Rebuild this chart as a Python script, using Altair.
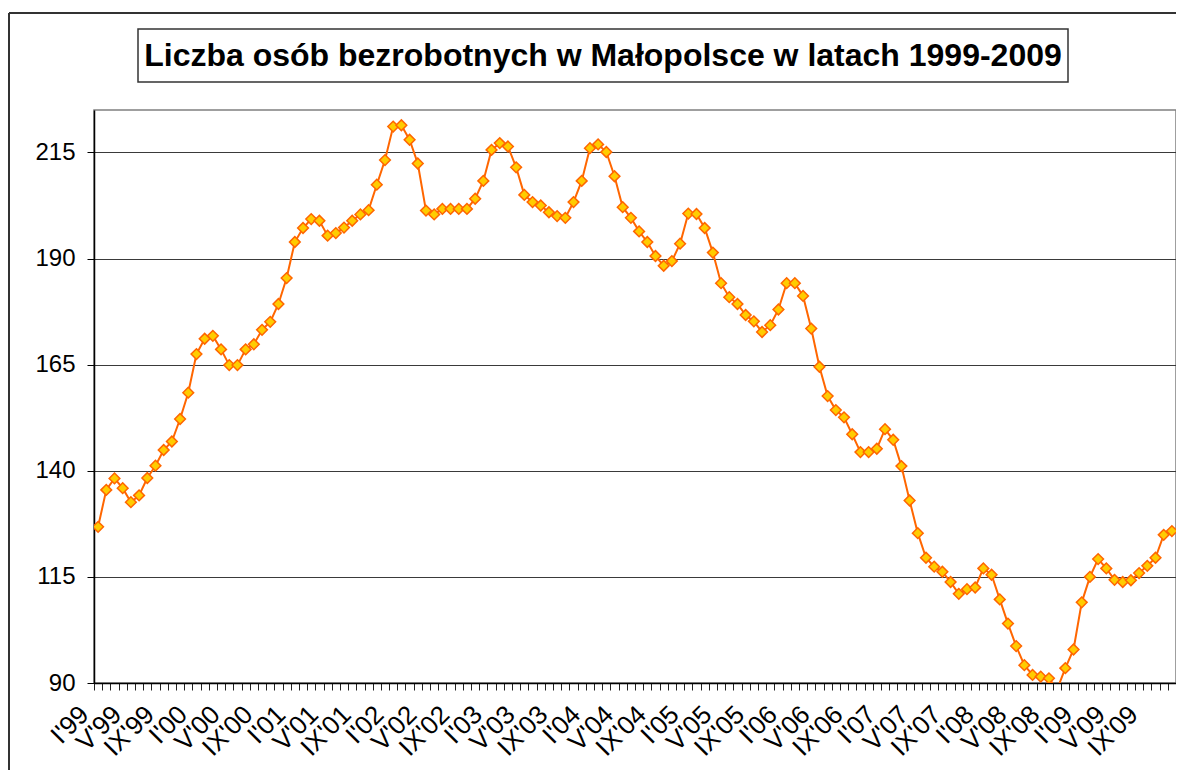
import altair as alt
import pandas as pd

TITLE = "Liczba osób bezrobotnych w Małopolsce w latach 1999-2009"

MONTHS = ["I", "II", "III", "IV", "V", "VI", "VII", "VIII", "IX", "X", "XI", "XII"]
YEARS = ["99", "00", "01", "02", "03", "04", "05", "06", "07", "08", "09"]
CATEGORIES = [f"{m}'{y}" for y in YEARS for m in MONTHS]

# unemployed persons (thousands), monthly, Jan 1999 - Dec 2009
VALUES = [
    126.8, 135.5, 138.2, 135.9, 132.6, 134.2, 138.3, 141.2, 144.9, 146.9, 152.2, 158.4,
    167.5, 171.1, 171.8, 168.6, 164.9, 164.9, 168.6, 169.8, 173.2, 175.1, 179.3, 185.4,
    193.9, 197.2, 199.3, 198.9, 195.4, 196.0, 197.3, 198.9, 200.4, 201.4, 207.4, 213.2,
    221.1, 221.4, 218.0, 212.4, 201.3, 200.4, 201.7, 201.7, 201.7, 201.7, 204.1, 208.3,
    215.6, 217.2, 216.4, 211.5, 205.0, 203.3, 202.5, 200.9, 200.0, 199.6, 203.3, 208.3,
    216.0, 216.9, 215.1, 209.4, 202.1, 199.6, 196.4, 193.9, 190.6, 188.3, 189.4, 193.5,
    200.6, 200.5, 197.2, 191.4, 184.2, 180.9, 179.3, 176.7, 175.2, 172.7, 174.3, 178.0,
    184.2, 184.2, 181.2, 173.5, 164.5, 157.6, 154.3, 152.6, 148.6, 144.4, 144.4, 145.2,
    149.8, 147.3, 141.1, 133.0, 125.3, 119.5, 117.4, 116.2, 113.8, 111.0, 112.1, 112.5,
    117.0, 115.5, 109.7, 104.0, 98.7, 94.2, 91.9, 91.5, 91.1, 88.5, 93.5, 97.9,
    109.0, 115.0, 119.2, 117.0, 114.3, 113.8, 114.2, 115.9, 117.6, 119.5, 124.9, 125.8,
]

Y_TICKS = [90, 115, 140, 165, 190, 215]
SHOWN_MONTHS = ["I", "V", "IX"]

df = pd.DataFrame({"okres": CATEGORIES, "wartosc": VALUES})

FONT = "Liberation Sans"

label_expr = (
    "indexof(" + str(SHOWN_MONTHS).replace('"', "'") + ", split(datum.value, \"'\")[0]) >= 0"
    " ? datum.value : ''"
)

x_enc = alt.X(
    "okres:O",
    sort=CATEGORIES,
    bandPosition=0.5,
    scale=alt.Scale(type="band", paddingInner=0, paddingOuter=0),
    axis=alt.Axis(
        title=None,
        tickBand="extent",
        labelExpr=label_expr,
        labelAngle=315,
        labelAlign="right",
        labelBaseline="middle",
        labelFont=FONT,
        labelFontSize=26,
        labelColor="black",
        labelPadding=20,
        labelOffset=-14,
        labelOverlap=False,
        labelBound=False,
        domainColor="black",
        domainWidth=1.5,
        tickColor="#222222",
        tickSize=7,
        grid=False,
    ),
)

y_enc = alt.Y(
    "wartosc:Q",
    scale=alt.Scale(domain=[90, 225], nice=False, zero=False),
    axis=alt.Axis(
        title=None,
        values=Y_TICKS,
        grid=True,
        gridColor="#3a3a3a",
        gridWidth=1,
        domainColor="black",
        domainWidth=1.5,
        tickColor="black",
        tickSize=7,
        labelFont=FONT,
        labelFontSize=24,
        labelColor="black",
        labelPadding=12,
    ),
)

line = alt.Chart(df).mark_line(color="#FF6600", strokeWidth=2, clip=True).encode(x=x_enc, y=y_enc)
points = alt.Chart(df).mark_point(
    shape="diamond", filled=True, fill="#FFCC00", stroke="#FF6600",
    strokeWidth=1.5, size=115, opacity=1, clip=True,
).encode(x=x_enc, y=y_enc)

deco = pd.DataFrame({"t": [TITLE]})
frame_left = alt.Chart(deco).mark_rule(color="#333333", strokeWidth=2).encode(
    x=alt.value(-85), y=alt.value(-97), y2=alt.value(720)
)
frame_top = alt.Chart(deco).mark_rule(color="#333333", strokeWidth=2).encode(
    x=alt.value(-85), x2=alt.value(1100), y=alt.value(-97)
)
title_box = alt.Chart(deco).mark_rect(fill="white", stroke="#333333", strokeWidth=1.5).encode(
    x=alt.value(44), x2=alt.value(974), y=alt.value(-81), y2=alt.value(-28)
)
title_text = alt.Chart(deco).mark_text(
    font=FONT, fontSize=32, fontWeight="bold", color="black",
    align="center", baseline="middle",
).encode(text="t:N", x=alt.value(509), y=alt.value(-54))

chart = alt.layer(frame_left, frame_top, title_box, title_text, line, points).properties(
    width=1082,
    height=573,
    autosize=alt.AutoSizeParams(type="none"),
    padding={"left": 86, "top": 102, "right": 0, "bottom": 87},
    background="white",
).configure_view(stroke="#808080", strokeWidth=1.5)

chart.save("out.html", embed_options={"renderer": "svg", "actions": False})
